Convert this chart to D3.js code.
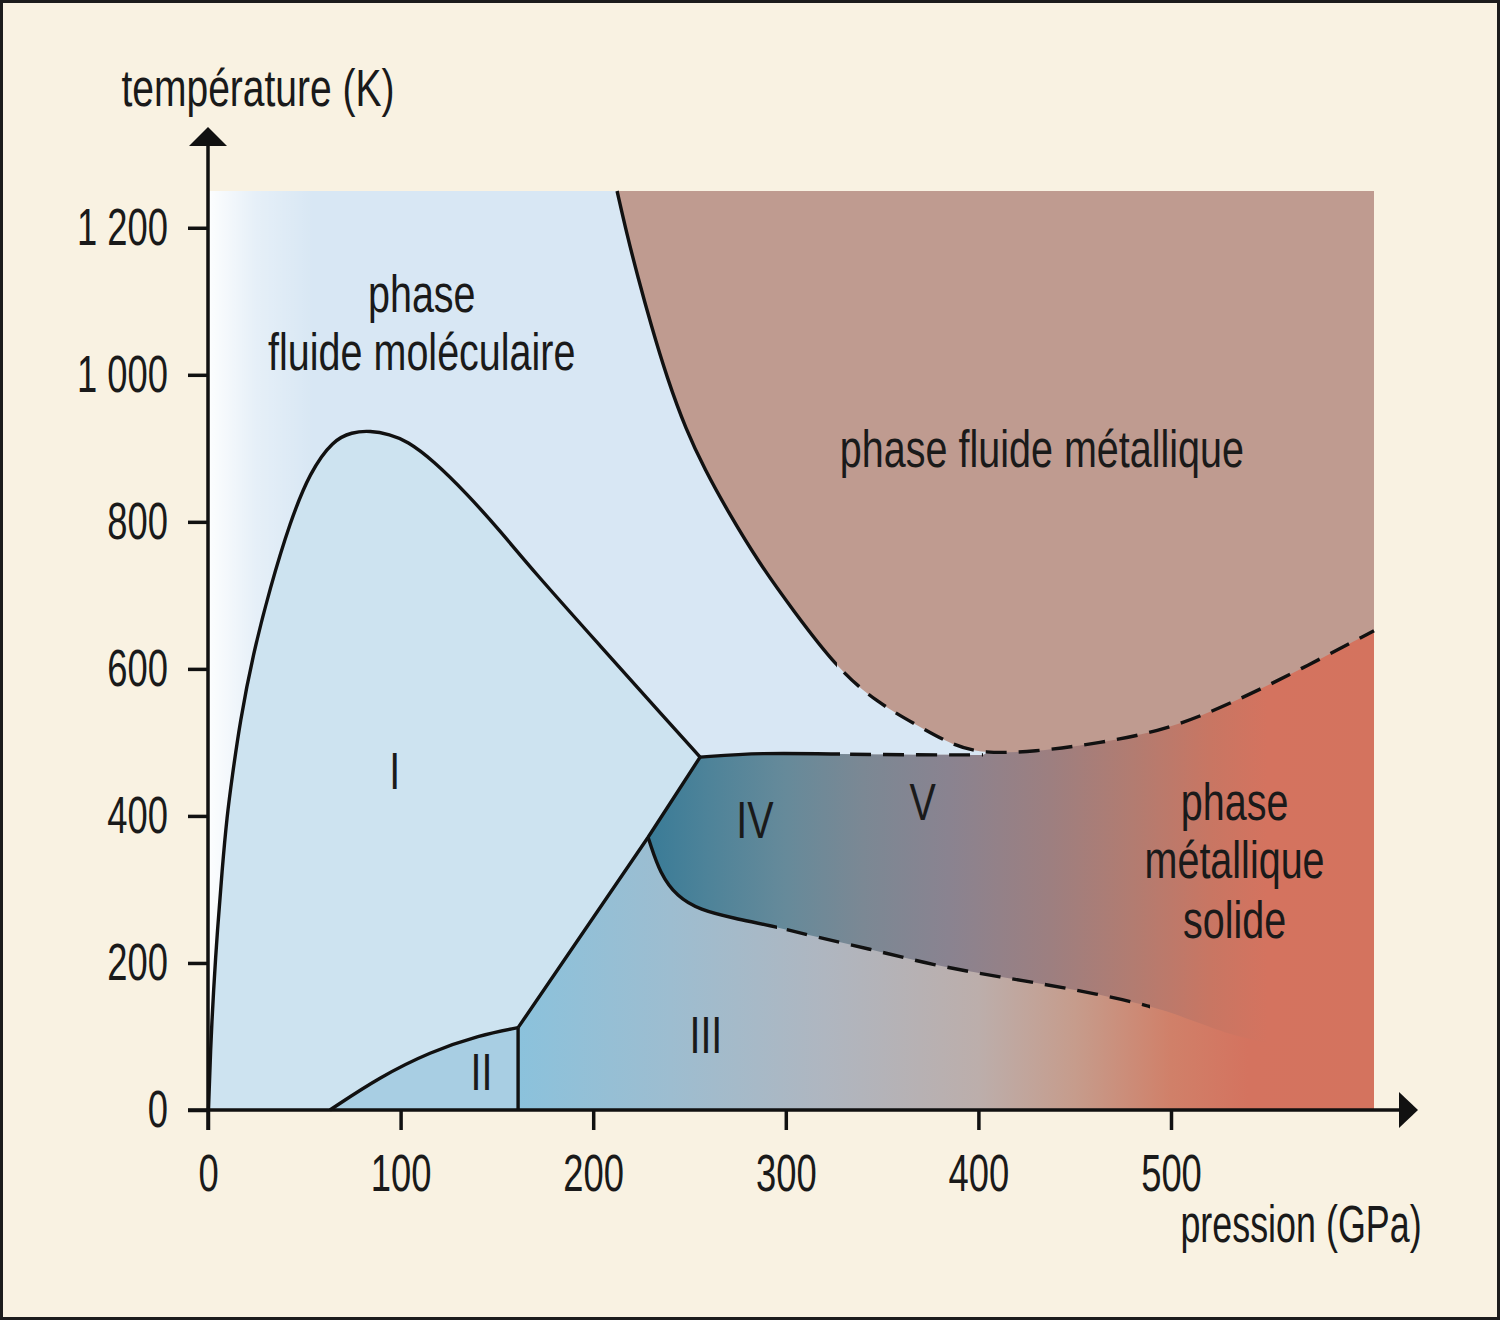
<!DOCTYPE html>
<html lang="fr">
<head>
  <meta charset="UTF-8">
  <title>Diagramme de phase de l'hydrogène</title>
  <script src="https://d3js.org/d3.v7.min.js"></script>
  <style>
    body {
      margin: 0;
      background: #ffffff;
    }
    #chart svg {
      display: block;
    }
    text {
      font-family: "Liberation Sans", Arial, sans-serif;
      fill: #1a1a1a;
    }
    .squeeze {
      transform-box: fill-box;
      transform-origin: center;
    }
    .squeeze-right {
      transform-box: fill-box;
      transform-origin: right center;
      transform: scaleX(0.7);
    }
    .tick-x {
      transform: scaleX(0.7);
    }
    .boundary {
      fill: none;
      stroke: #111;
      stroke-width: 3.4;
    }
    .boundary.dashed {
      stroke-dasharray: 21 12;
    }
  </style>
</head>
<body>
  <div id="chart"></div>
  <script>
    // axis ticks
    const pressureTicks = [0, 100, 200, 300, 400, 500];
    const temperatureTicks = [0, 200, 400, 600, 800, 1000, 1200];

    // boundaries, [pression GPa, température K]
    const meltingLine = [
      [0.26, 0], [1.3, 82], [2.85, 163], [4.9, 245], [7.3, 326], [9.9, 401],
      [12.5, 452], [16.6, 528], [23.3, 619], [32.2, 710], [42.6, 800],
      [53.0, 868], [64.9, 911], [74.7, 922], [84.1, 924], [94.4, 919],
      [103.3, 910], [116.7, 884], [134.5, 838], [151.6, 788], [168.6, 734],
      [203.4, 632], [238.2, 530], [255.5, 480]
    ];
    const phaseIILine = [[63.3, 0], [89.3, 45], [115.3, 79], [141.2, 102], [161, 112]];
    const phaseIIWall = [[161, 112], [161, 0]];
    const phaseIIILine = [[161, 112], [228.5, 371], [255.5, 480]];
    const phaseIVUpper = [[255.5, 480], [286.6, 486], [328.1, 484], [366, 483], [402.4, 483]];
    const metalBoundary = [
      [212.4, 1250], [217.6, 1190], [223.3, 1132], [230.0, 1068], [238.3, 996],
      [248.2, 925], [258.0, 871], [269.5, 816], [286.1, 744], [303.7, 680],
      [326.6, 601], [347.4, 554], [369.7, 521], [386.8, 496], [402.4, 485],
      [428.3, 487], [463.1, 499], [497.9, 517], [532.2, 554], [567, 599],
      [605.4, 652]
    ];
    const phaseIVLower = [
      [228.5, 371], [229.5, 363], [234.7, 322], [243.5, 290], [255.5, 272],
      [272.6, 261], [295.4, 249], [316.2, 235], [342.2, 220], [376.4, 197],
      [411.2, 181], [446, 166], [489.1, 143], [515, 118], [541, 92], [605.4, 70]
    ];
    // where the solid part of a boundary turns dashed, and where the drawn line ends
    const metalSolidEnd = 326.6;
    const upperSolidEnd = 328.1;
    const lowerSolidEnd = 295.4;
    const lowerDrawnEnd = 489.1;

    const pMax = 605.4;
    const tMax = 1250;

    const width = 1500;
    const height = 1320;

    const x = d3.scaleLinear().domain([0, pMax]).range([208, 1374]);
    const y = d3.scaleLinear().domain([0, tMax]).range([1110, 191]);

    const svg = d3.select("#chart")
      .append("svg")
      .attr("width", width)
      .attr("height", height);

    const defs = svg.append("defs");

    function hGradient(id, stops) {
      const g = defs.append("linearGradient")
        .attr("id", id)
        .attr("gradientUnits", "userSpaceOnUse")
        .attr("x1", x(0)).attr("x2", x(pMax))
        .attr("y1", 0).attr("y2", 0);
      stops.forEach(([p, c, o]) => {
        g.append("stop")
          .attr("offset", p / pMax)
          .attr("stop-color", c)
          .attr("stop-opacity", o === undefined ? 1 : o);
      });
    }

    hGradient("fade", [[0, "#ffffff", 0.95], [25, "#ffffff", 0.35], [55, "#ffffff", 0]]);
    hGradient("gradIII", [
      [161, "#8bc2dc"], [240, "#9dbdd0"], [320, "#afb6c0"], [400, "#bcaeab"],
      [450, "#c69c8c"], [500, "#d08069"], [540, "#d4735f"], [pMax, "#d4735e"]
    ]);
    hGradient("gradIV", [
      [228, "#397b97"], [260, "#4e8399"], [300, "#668a9a"], [340, "#7b8894"],
      [385, "#8a8390"], [437, "#9d7f80"], [480, "#b27c71"], [520, "#c87663"],
      [550, "#d4735f"], [pMax, "#d4735e"]
    ]);

    let clipCount = 0;
    function clipX(p0, p1) {
      const id = "clip" + (clipCount++);
      defs.append("clipPath").attr("id", id)
        .append("rect")
        .attr("x", x(p0)).attr("width", x(p1) - x(p0))
        .attr("y", 0).attr("height", height);
      return `url(#${id})`;
    }

    // background and frame
    svg.append("rect")
      .attr("x", 1.5).attr("y", 1.5)
      .attr("width", width - 3).attr("height", height - 3)
      .attr("fill", "#f9f2e2")
      .attr("stroke", "#1c1c1c")
      .attr("stroke-width", 3);

    const line = d3.line().x(d => x(d[0])).y(d => y(d[1]));
    const smooth = d3.line().x(d => x(d[0])).y(d => y(d[1])).curve(d3.curveBasis);

    // joins several pieces into one closed outline
    function outline(pieces) {
      return pieces.map((pc, i) => {
        const gen = pc.curve ? smooth : line;
        const s = gen(pc.pts).replace(/Z$/, "");
        return i === 0 ? s : "L" + s.slice(1);
      }).join("") + "Z";
    }
    const rev = a => a.slice().reverse();

    const plot = svg.append("g");

    // fluide moléculaire (fond)
    plot.append("rect")
      .attr("x", x(0)).attr("y", y(tMax))
      .attr("width", x(pMax) - x(0)).attr("height", y(0) - y(tMax))
      .attr("fill", "#d8e7f4");
    plot.append("rect")
      .attr("x", x(0)).attr("y", y(tMax))
      .attr("width", x(pMax) - x(0)).attr("height", y(0) - y(tMax))
      .attr("fill", "url(#fade)");

    // phase III + solide métallique
    plot.append("path")
      .attr("fill", "url(#gradIII)")
      .attr("d", outline([
        { pts: [[161, 0]] },
        { pts: phaseIIILine },
        { pts: phaseIVUpper, curve: true },
        { pts: [[pMax, 720], [pMax, 0]] }
      ]));

    // phases IV / V
    plot.append("path")
      .attr("fill", "url(#gradIV)")
      .attr("d", outline([
        { pts: [[228.5, 371], [255.5, 480]] },
        { pts: phaseIVUpper, curve: true },
        { pts: [[pMax, 720]] },
        { pts: rev(phaseIVLower), curve: true }
      ]));

    // fluide métallique
    plot.append("path")
      .attr("fill", "#bf9b90")
      .attr("d", outline([
        { pts: metalBoundary, curve: true },
        { pts: [[pMax, tMax]] }
      ]));

    // phase I
    plot.append("path")
      .attr("fill", "#cde3f0")
      .attr("d", outline([
        { pts: meltingLine, curve: true },
        { pts: rev(phaseIIILine) },
        { pts: rev(phaseIILine), curve: true }
      ]));

    // phase II
    plot.append("path")
      .attr("fill", "#a8cee3")
      .attr("d", outline([
        { pts: phaseIILine, curve: true },
        { pts: phaseIIWall }
      ]));

    // boundary lines
    [meltingLine, phaseIILine].forEach(pts => {
      plot.append("path").attr("class", "boundary").attr("d", smooth(pts));
    });
    [phaseIIWall, phaseIIILine].forEach(pts => {
      plot.append("path").attr("class", "boundary").attr("d", line(pts));
    });

    // length along a path (monotone in x) up to a given pressure
    function lengthAt(node, p) {
      const target = x(p);
      let lo = 0, hi = node.getTotalLength();
      for (let i = 0; i < 40; i++) {
        const mid = (lo + hi) / 2;
        if (node.getPointAtLength(mid).x < target) lo = mid; else hi = mid;
      }
      return lo;
    }

    function splitBoundary(pts, solidEnd, drawnEnd) {
      const d = smooth(pts);
      plot.append("path").attr("class", "boundary").attr("d", d)
        .attr("clip-path", clipX(0, solidEnd));
      const dashed = plot.append("path").attr("class", "boundary dashed").attr("d", d)
        .attr("clip-path", clipX(solidEnd, drawnEnd));
      const L = lengthAt(dashed.node(), solidEnd);
      dashed.attr("stroke-dashoffset", -(L + 10));
    }

    splitBoundary(metalBoundary, metalSolidEnd, pMax + 5);
    splitBoundary(phaseIVUpper, upperSolidEnd, pMax);
    splitBoundary(phaseIVLower, lowerSolidEnd, lowerDrawnEnd);

    // axes
    const fr = d3.formatLocale({ decimal: ",", thousands: " ", grouping: [3], currency: ["", ""] });
    const fmt = fr.format(",");

    const xAxis = svg.append("g")
      .attr("transform", `translate(0,${y(0)})`)
      .call(d3.axisBottom(x).tickValues(pressureTicks).tickSize(20).tickPadding(24).tickSizeOuter(0));
    const yAxis = svg.append("g")
      .attr("transform", `translate(${x(0)},0)`)
      .call(d3.axisLeft(y).tickValues(temperatureTicks).tickFormat(fmt).tickSize(20).tickPadding(20).tickSizeOuter(0));

    [xAxis, yAxis].forEach(a => {
      a.select(".domain").remove();
      a.attr("font-family", null).attr("font-size", null);
      a.selectAll(".tick line").attr("stroke", "#111").attr("stroke-width", 3.5);
      a.selectAll(".tick text").attr("font-size", 52).attr("fill", "#1a1a1a");
    });
    xAxis.selectAll(".tick text").attr("class", "squeeze tick-x");
    yAxis.selectAll(".tick text").attr("class", "squeeze-right");

    // axis lines with arrows
    svg.append("line")
      .attr("x1", x(0) - 20).attr("x2", 1402)
      .attr("y1", y(0)).attr("y2", y(0))
      .attr("stroke", "#111").attr("stroke-width", 3.5);
    svg.append("path")
      .attr("d", `M1418,${y(0)}L1399,${y(0) - 18}L1399,${y(0) + 18}Z`)
      .attr("fill", "#111");
    svg.append("line")
      .attr("x1", x(0)).attr("x2", x(0))
      .attr("y1", y(0) + 20).attr("y2", 143)
      .attr("stroke", "#111").attr("stroke-width", 3.5);
    svg.append("path")
      .attr("d", `M${x(0)},127L${x(0) - 19},146L${x(0) + 19},146Z`)
      .attr("fill", "#111");

    // titles and labels
    function label(txt, px, py, sx) {
      svg.append("text")
        .attr("class", "squeeze")
        .style("transform", `scaleX(${sx || 0.76})`)
        .attr("x", px).attr("y", py)
        .attr("text-anchor", "middle")
        .attr("font-size", 52)
        .text(txt);
    }

    label("température (K)", 258, 106, 0.75);
    label("pression (GPa)", 1301, 1242, 0.69);

    label("phase", x(111), y(1085));
    label("fluide moléculaire", x(111), y(1007));
    label("phase fluide métallique", x(433), y(874));
    label("I", x(97), y(436));
    label("II", x(142), y(27));
    label("III", x(258.5), y(78));
    label("IV", x(284), y(370));
    label("V", x(371), y(394));
    label("phase", x(533), y(395));
    label("métallique", x(533), y(316));
    label("solide", x(533), y(234));
  </script>
</body>
</html>
